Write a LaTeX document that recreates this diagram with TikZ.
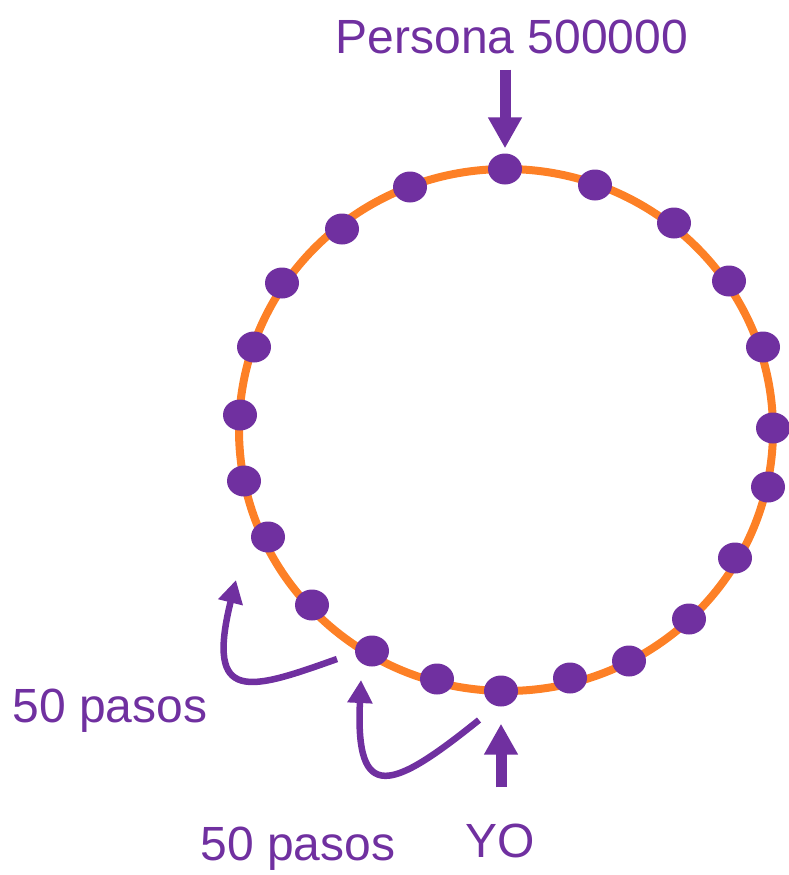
\documentclass[tikz,border=0pt]{standalone}
\usepackage{fontspec}
\setmainfont{Liberation Sans}
\usetikzlibrary{arrows.meta,shapes.geometric}
\definecolor{PasoPurple}{RGB}{112,48,160}
\definecolor{PasoOrange}{RGB}{253,128,38}

\begin{document}
\begin{tikzpicture}[
x=1pt,y=-1pt,
dot/.style={ellipse,fill=PasoPurple,minimum width=34pt,minimum height=31pt,inner sep=0pt},
lbl/.style={text=PasoPurple,font=\fontsize{48}{56}\selectfont,inner sep=0pt},
bigarrow/.style={-{Triangle[length=31pt,width=32pt]},line width=11pt,draw=PasoPurple},
curvarrow/.style={-{Triangle[length=23pt,width=24pt]},line width=6.5pt,draw=PasoPurple}
]
\useasboundingbox (0,0) rectangle (788,875);
% the ring
\draw[PasoOrange,line width=8pt] (506,430) ellipse [x radius=267,y radius=261];
\foreach \px/\py [count=\i] in {505/169,595/185,674/223,729/281,763/347,773/428,
  768/487,735/558,689/619,629/661,570/678,501/691,437/679,372/651,312/605,
  268/537,244/481,240/415,254/347,282/283,342/229,410/187}
  \node[dot] (d\i) at (\px,\py) {};

% labels
\node[lbl,anchor=base] (persona) at (512,53) {Persona 500000};
\node[lbl,anchor=base] (yo) at (500,857) {YO};
\node[lbl,anchor=base] (pasosa) at (110,722) {50 pasos};
\node[lbl,anchor=base] (pasosb) at (298,860) {50 pasos};

\draw[bigarrow,shorten <=16pt,shorten >=5pt] (d1 |- persona.south) -- (d1);
\draw[bigarrow,shorten <=36pt,shorten >=17pt] (d12 |- yo.north) -- (d12);

% steps
\coordinate (s1) at (479,720);
\coordinate (t1) at (361,680);
\coordinate (s2) at (337,659);
\coordinate (t2) at (236,580);
\draw[curvarrow] (s1) .. controls (392,790) and (355,805) .. (t1);
\draw[curvarrow] (s2) .. controls (250,690) and (205,705) .. (t2);
\end{tikzpicture}
\end{document}
